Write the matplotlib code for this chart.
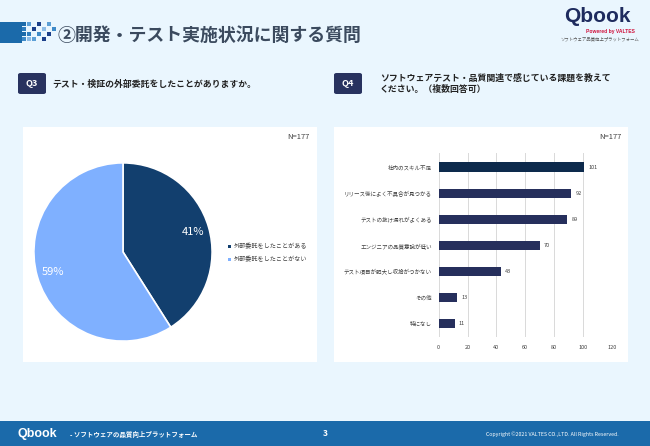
import matplotlib
matplotlib.use("Agg")
import matplotlib.pyplot as plt
from matplotlib.patches import Rectangle, FancyBboxPatch

plt.rcParams['font.family'] = ['Noto Sans CJK JP', 'DejaVu Sans']

# ---- data ----
title = "②開発・テスト実施状況に関する質問"
q3_text = "テスト・検証の外部委託をしたことがありますか。"
q4_text = "ソフトウェアテスト・品質関連で感じている課題を教えて\nください。（複数回答可）"
n_label = "N=177"

pie_labels = ["外部委託をしたことがある", "外部委託をしたことがない"]
pie_values = [41, 59]
pie_colors = ["#123F6E", "#7FB0FF"]

bar_categories = ["社内のスキル不足", "リリース後によく不具合が見つかる", "テストの抜け漏れがよくある",
                  "エンジニアの品質意識が低い", "テスト項目が肥大し収拾がつかない", "その他", "特になし"]
bar_values = [101, 92, 89, 70, 43, 13, 11]
bar_ticks = [0, 20, 40, 60, 80, 100, 120]

W, H = 650, 446
BG = "#EAF6FE"
fig = plt.figure(figsize=(W / 100, H / 100), dpi=100)
fig.patch.set_facecolor(BG)


def fx(x):
    return x / W


def fy(y):
    return 1 - y / H


def rect(x, y, w, h, color, z=0.5):
    fig.patches.append(Rectangle((fx(x), fy(y + h)), w / W, h / H, transform=fig.transFigure,
                                 facecolor=color, edgecolor='none', zorder=z))


# header decoration
rect(0, 22, 22, 21, "#1B6AAA")
pattern = [
    (22, 22, "#1B6AAA"), (22, 27, "#2F7DBE"), (22, 32, "#1B6AAA"), (22, 37, "#3E8AC8"),
    (27, 22, "#5C9FD6"), (27, 32, "#2F7DBE"), (27, 37, "#8DBCE6"),
    (32, 27, "#1B3F8A"), (32, 37, "#5C9FD6"), (37, 22, "#1B3F8A"), (37, 32, "#3E8AC8"),
    (42, 27, "#8DBCE6"), (42, 37, "#1B3F8A"), (47, 22, "#5C9FD6"), (47, 32, "#1B3F8A"),
    (52, 27, "#3E8AC8"),
]
for px_, py_, c in pattern:
    rect(px_, py_, 4, 4, c)

fig.text(fx(58), fy(36), title, fontsize=12.9, fontweight='bold', color="#3B4A5E", va='center', ha='left')

# logo top-right
fig.text(fx(597), fy(17), "Qbook", fontsize=15, fontweight='bold', color="#1E2B5E", ha='center', va='center',
         family=['Liberation Sans', 'DejaVu Sans'])
fig.text(fx(610), fy(31), "Powered by VALTES", fontsize=3.6, fontweight='bold', color="#D0103A", ha='center', va='center',
         family=['Liberation Sans', 'DejaVu Sans'])
fig.text(fx(600), fy(39), "ソフトウェア品質向上プラットフォーム", fontsize=3.2, color="#555555", ha='center', va='center')

# question boxes
for x0, lab in [(18, "Q3"), (334, "Q4")]:
    fig.patches.append(FancyBboxPatch((fx(x0), fy(94)), 28 / W, 21 / H, boxstyle="round,pad=0,rounding_size=0.004",
                                      transform=fig.transFigure, facecolor="#28325F", edgecolor='none'))
    fig.text(fx(x0 + 14), fy(84), lab, fontsize=6.5, fontweight='bold', color='white', ha='center', va='center')
fig.text(fx(52), fy(84), q3_text, fontsize=6.4, fontweight='bold', color="#222222", ha='left', va='center')
fig.text(fx(380), fy(84), q4_text, fontsize=6.4, fontweight='bold', color="#222222", ha='left', va='center',
         linespacing=1.25)

# panels
rect(23, 127, 294, 235, "white", z=-1)
rect(334, 127, 294, 235, "white", z=-1)
fig.text(fx(310), fy(137), n_label, fontsize=5.5, color="#404040", ha='right', va='center')
fig.text(fx(621), fy(137), n_label, fontsize=5.5, color="#404040", ha='right', va='center')

# pie chart
axp = fig.add_axes([fx(33), fy(342), 180 / W, 180 / H])
axp.set_zorder(2)
wedges, texts, autotexts = axp.pie(pie_values, colors=pie_colors, startangle=90, counterclock=False,
                                   autopct=lambda p: f"{p:.0f}%", pctdistance=0.82,
                                   wedgeprops=dict(edgecolor='white', linewidth=1.2),
                                   textprops=dict(color='white', fontsize=8))
axp.set_xlim(-1.01, 1.01)
axp.set_ylim(-1.01, 1.01)
axp.set_aspect('equal')
axp.axis('off')

# legend
for i, (lab, c) in enumerate(zip(pie_labels, pie_colors)):
    yy = 246 + i * 13
    rect(228, yy - 1.5, 3, 3, c)
    fig.text(fx(234), fy(yy), lab, fontsize=4.4, color="#404040", ha='left', va='center')

# bar chart
axb = fig.add_axes([fx(438.7), fy(337), 173 / W, 184 / H])
axb.set_zorder(2)
axb.set_facecolor('white')
ypos = list(range(len(bar_categories)))
colors = ["#0D2A4C"] + ["#262F5C"] * (len(bar_values) - 1)
axb.barh(ypos, bar_values, height=0.37, color=colors, zorder=3)
axb.set_xlim(0, 120)
axb.set_ylim(6.52, -0.55)
axb.set_xticks(bar_ticks)
axb.set_xticklabels([str(t) for t in bar_ticks])
axb.set_yticks(ypos)
axb.set_yticklabels(bar_categories)
axb.grid(axis='x', color="#D9D9D9", linewidth=0.7, zorder=0)
for s in axb.spines.values():
    s.set_visible(False)
axb.tick_params(axis='both', length=0, labelsize=4, labelcolor="#404040")
axb.tick_params(axis='x', pad=6)
axb.tick_params(axis='y', pad=5)
for y, v in zip(ypos, bar_values):
    axb.text(v + 3, y, str(v), fontsize=4, color="#404040", va='center', ha='left')

# footer
rect(0, 421, 650, 25, "#1B6AAA")
fig.text(fx(17), fy(434), "Qbook", fontsize=9, fontweight='bold', color='white', ha='left', va='center',
         family=['Liberation Sans', 'DejaVu Sans'])
fig.text(fx(70), fy(434), "- ソフトウェアの品質向上プラットフォーム", fontsize=4.7, fontweight='bold', color='white',
         ha='left', va='center')
fig.text(fx(325), fy(434), "3", fontsize=6, fontweight='bold', color='white', ha='center', va='center')
fig.text(fx(619), fy(434), "Copyright ©2021 VALTES CO.,LTD. All Rights Reserved.", fontsize=3.8, color='white',
         ha='right', va='center')

fig.savefig("out.png", dpi=100, facecolor=BG)
